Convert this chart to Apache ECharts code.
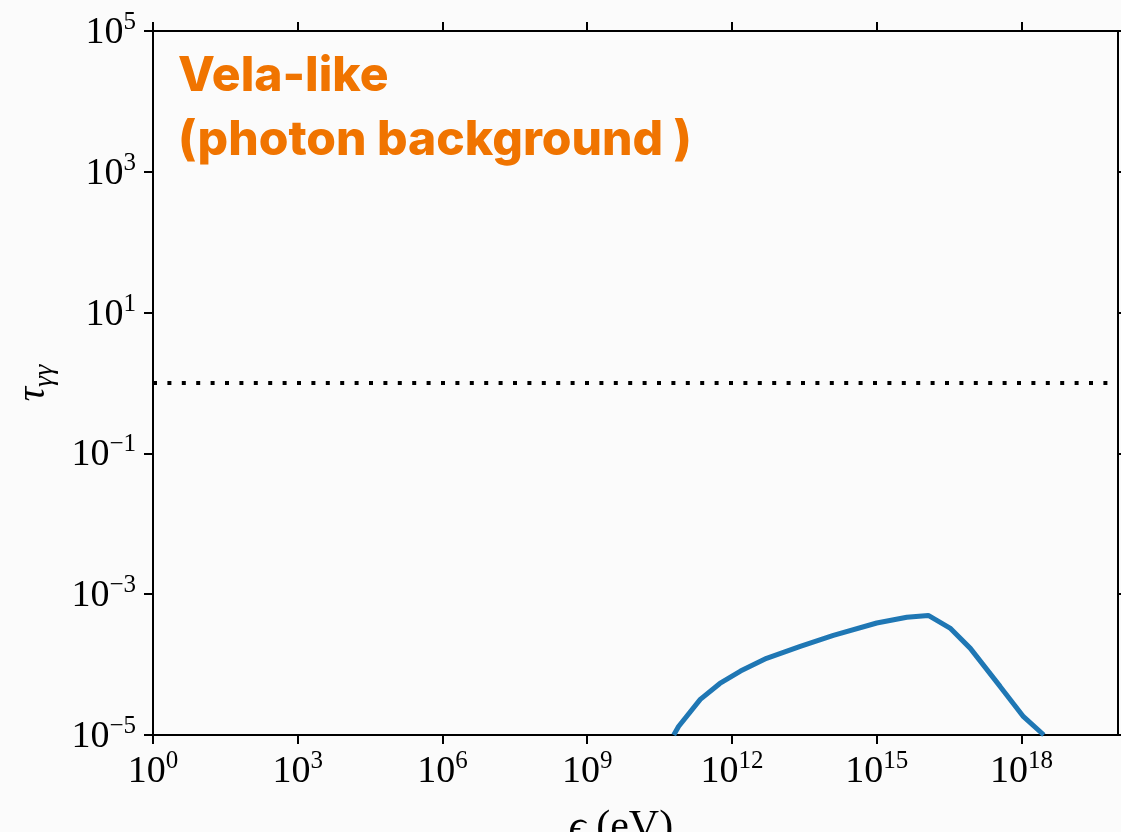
<!DOCTYPE html>
<html>
<head>
<meta charset="utf-8">
<script src="https://cdn.jsdelivr.net/npm/echarts@6/dist/echarts.min.js"></script>
<style>
html,body{margin:0;padding:0;background:#fbfbfb;}
#chart{width:1121px;height:832px;}
</style>
</head>
<body>
<div id="chart"></div>
<script>
// Photon energy (eV) and optical depth tau_gamma-gamma
const energy = [6.2e10, 7.8e10, 2.2e11, 5.6e11, 1.5e12, 5.2e12, 2.6e13, 1.26e14, 1.0e15, 4.2e15, 1.17e16, 3.3e16, 8.7e16, 3.6e17, 1.1e18, 2.9e18];
const tau    = [1.0e-5, 1.32e-5, 3.2e-5, 5.4e-5, 8.1e-5, 1.23e-4, 1.82e-4, 2.6e-4, 3.9e-4, 4.7e-4, 5.0e-4, 3.3e-4, 1.7e-4, 4.9e-5, 1.82e-5, 1.0e-5];
const thresholdTau = 1;
const xRange = [1, 1e20];
const yRange = [1e-5, 1e5];
const xTicks = [1, 1e3, 1e6, 1e9, 1e12, 1e15, 1e18];
const yTicks = [1e-5, 1e-3, 1e-1, 1e1, 1e3, 1e5];
const titleLines = ['Vela-like', '(photon background )'];

const chart = echarts.init(document.getElementById('chart'), null, {renderer: 'canvas'});

function powLabel(v) {
  const e = Math.round(Math.log10(v));
  const s = e < 0 ? '\u2212' + (-e) : String(e);
  return '{b|10}{s|' + s + '}';
}
const serif = "'Liberation Serif', 'DejaVu Serif', serif";
const richLab = {
  b: {fontFamily: serif, fontSize: 38, color: '#000', lineHeight: 42, verticalAlign: 'bottom'},
  s: {fontFamily: serif, fontSize: 25, color: '#000', lineHeight: 42, verticalAlign: 'top'}
};
const axisLineStyle = {color: '#000', width: 2};

function mkX(pos, showLabel) {
  return {
    type: 'log', logBase: 10, min: xRange[0], max: xRange[1], position: pos,
    gridIndex: 0,
    axisLine: {show: true, lineStyle: axisLineStyle, onZero: false},
    axisTick: {show: true, inside: false, length: 9, lineStyle: {color: '#000', width: 2}, customValues: xTicks},
    minorTick: {show: false},
    splitLine: {show: false},
    axisLabel: {show: showLabel, margin: 14, formatter: powLabel, rich: richLab, customValues: xTicks}
  };
}
function mkY(pos, showLabel) {
  return {
    type: 'log', logBase: 10, min: yRange[0], max: yRange[1], position: pos,
    gridIndex: 0,
    axisLine: {show: true, lineStyle: axisLineStyle, onZero: false},
    axisTick: {show: true, inside: false, length: 9, lineStyle: {color: '#000', width: 2}, customValues: yTicks},
    minorTick: {show: false},
    splitLine: {show: false},
    axisLabel: {show: showLabel, margin: 17, formatter: powLabel, rich: richLab, customValues: yTicks}
  };
}

const titleFont = "800 48px Inter, 'Open Sans', sans-serif";
const option = {
  backgroundColor: '#fbfbfb',
  animation: false,
  grid: {left: 153, top: 31, width: 965, height: 704, containLabel: false},
  xAxis: [mkX('bottom', true), mkX('top', false)],
  yAxis: [mkY('left', true), mkY('right', false)],
  series: [
    {
      type: 'line', xAxisIndex: 0, yAxisIndex: 0,
      data: energy.map((e, i) => [e, tau[i]]),
      showSymbol: false, clip: true,
      lineStyle: {color: '#1f77b4', width: 5}
    },
    {
      type: 'line', xAxisIndex: 0, yAxisIndex: 0,
      data: [[xRange[0], thresholdTau], [xRange[1], thresholdTau]],
      showSymbol: false,
      lineStyle: {color: '#000', width: 4, type: [4, 10.4], cap: 'butt'}
    }
  ],
  graphic: [
    {type: 'text', left: 178, top: 53, style: {text: titleLines[0], font: titleFont, fill: '#f07400'}},
    {type: 'text', left: 178, top: 117, style: {text: titleLines[1], font: titleFont, fill: '#f07400'}},
    {type: 'text', x: 36, y: 383, rotation: Math.PI / 2,
      style: {text: '{t|\u03c4}{g|\u03b3\u03b3}', align: 'center', verticalAlign: 'middle',
        rich: {
          t: {fontFamily: serif, fontStyle: 'italic', fontSize: 40, color: '#000', lineHeight: 46, verticalAlign: 'top'},
          g: {fontFamily: serif, fontStyle: 'italic', fontSize: 28, color: '#000', lineHeight: 46, verticalAlign: 'bottom'}
        }}},
    {type: 'text', x: 621, y: 828,
      style: {text: '{e|\u03f5}{n| (eV)}', align: 'center', verticalAlign: 'middle',
        rich: {
          e: {fontFamily: serif, fontStyle: 'italic', fontSize: 42, color: '#000'},
          n: {fontFamily: serif, fontSize: 42, color: '#000'}
        }}}
  ]
};
chart.setOption(option);
</script>
</body>
</html>
